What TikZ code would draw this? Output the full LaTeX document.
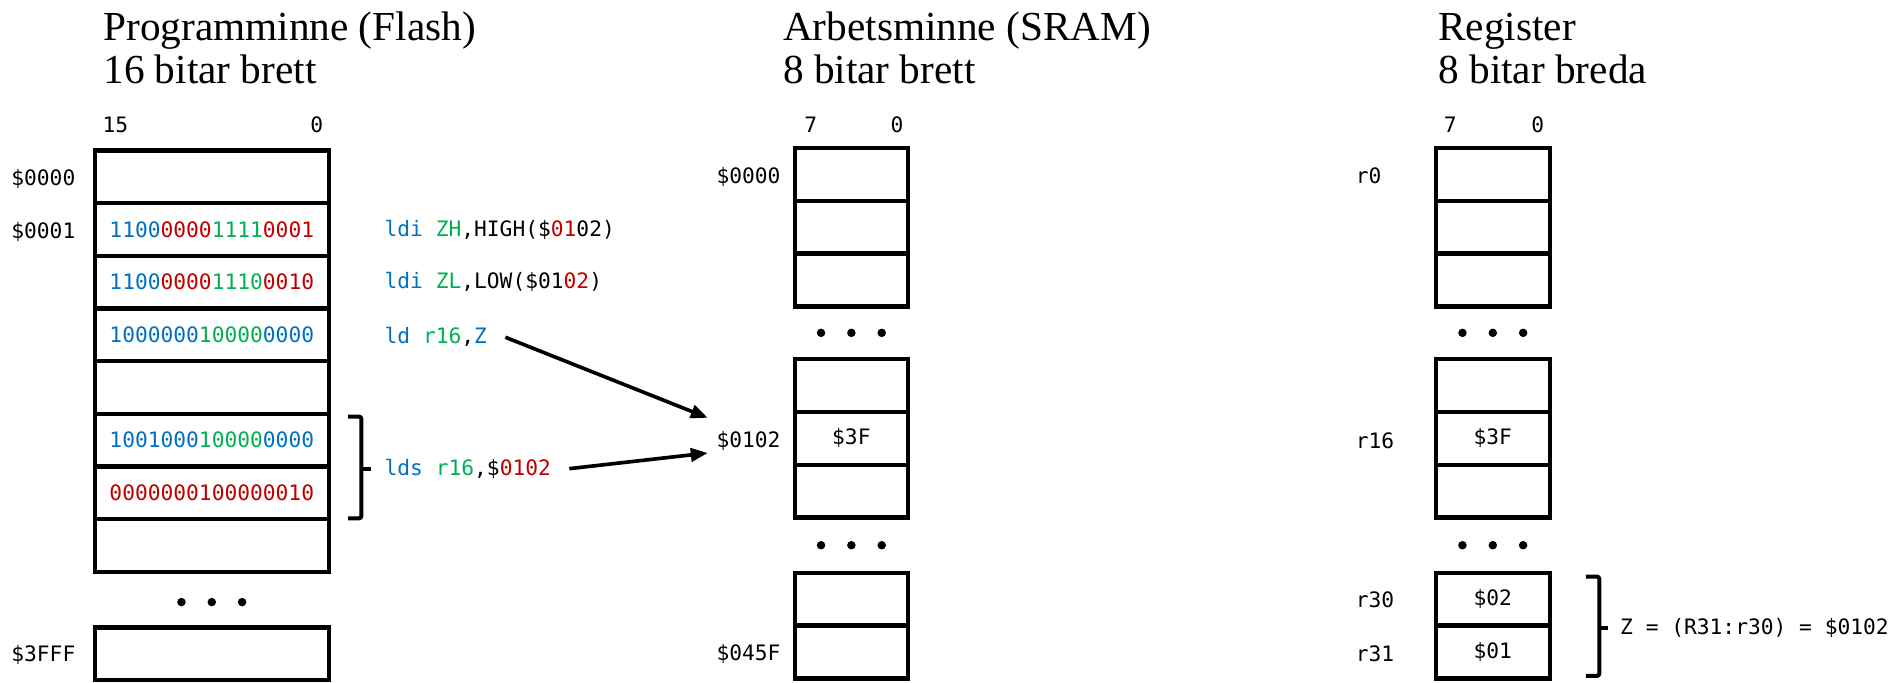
\documentclass[tikz,border=0pt]{standalone}
\usepackage{fontspec}
\setmainfont{Liberation Serif}
\setmonofont{DejaVu Sans Mono}
\usetikzlibrary{calc,positioning,arrows.meta}

\definecolor{opblue}{RGB}{0,112,192}
\definecolor{opgreen}{RGB}{0,176,80}
\definecolor{opred}{RGB}{192,0,0}
\newcommand{\opB}[1]{\textcolor{opblue}{#1}}
\newcommand{\opG}[1]{\textcolor{opgreen}{#1}}
\newcommand{\opR}[1]{\textcolor{opred}{#1}}
\newcommand{\bitfont}{\ttfamily\fontsize{17.5}{21}\selectfont}
\newcommand{\capfont}{\rmfamily\fontsize{34}{36}\selectfont}

\begin{document}
\begin{tikzpicture}[x=1pt,y=-1pt,
    cell/.style={draw,line width=3.5pt,minimum height=43.4pt,inner sep=0pt,font=\bitfont},
    lbl/.style={inner sep=2pt,font=\bitfont},
    title/.style={anchor=base west,align=left,inner sep=0pt,font=\capfont},
    ptr/.style={line width=3pt,-{Triangle[length=14pt,width=11pt]}},
    brace/.style={line width=3.3pt,rounded corners=2pt}]
    \useasboundingbox (0,0) rectangle (1568,562);

    % rubriker
    \node[title] (tf) at (85,69) {Programminne (Flash)\\16 bitar brett};
    \node[title] (ts) at (645,69) {Arbetsminne (SRAM)\\8 bitar brett};
    \node[title] (tr) at (1185,69) {Register\\8 bitar breda};

    % programminne
    \foreach \i/\txt in {1/{},
            2/{\opB{1100}\opR{0000}\opG{1111}\opR{0001}},
            3/{\opB{1100}\opR{0000}\opG{1110}\opR{0010}},
            4/{\opB{1000000}\opG{10000}\opB{0000}},
            5/{},
            6/{\opB{1001000}\opG{10000}\opB{0000}},
            7/{\opR{0000000100000010}},
            8/{}} {
        \node[cell,minimum width=193pt] (f\i) at (174.5,{124+(\i-0.5)*43.4}) {\txt};}
    \node[cell,minimum width=193pt] (f9) at (174.5,538.7) {};
    \foreach \x in {-25,0,25}
        \fill ($(f8.south)!0.5!(f9.north)+(\x,2)$) circle (3.5pt);

    \node[lbl] (fhi) at (95,103) {15};
    \node[lbl] (flo) at (261,103) {0};
    \node[lbl,left=12pt of f1,yshift=-2pt] (fa0) {\$0000};
    \node[lbl,left=12pt of f2,yshift=-2pt] (fa1) {\$0001};
    \node[lbl,left=12pt of f9,yshift=-1pt] (fa2) {\$3FFF};

    % instruktioner
    \node[lbl,right=42pt of f2] (ldzh) {\opB{ldi} \opG{ZH},HIGH(\$\opR{01}02)};
    \node[lbl,right=42pt of f3] (ldzl) {\opB{ldi} \opG{ZL},LOW(\$01\opR{02})};
    \node[lbl,right=42pt of f4,yshift=-2pt] (ld) {\opB{ld} \opG{r16},\opB{Z}};
    \draw[brace] ($(f6.north east)+(14,4)$) -| ($(f7.south east)+(25,-2.5)$) -- ++(-11,0);
    \draw[brace] ($(f6.south east)+(25,0)$) -- ++(8,0) coordinate (fbm);
    \node[lbl,anchor=west] (lds) at ($(fbm)+(9,0)$) {\opB{lds} \opG{r16},\$\opR{0102}};

    % arbetsminne och register
    \foreach \c/\x/\w in {s/701.5/93,r/1230/94} {
        \foreach \i/\y in {1/143.75,2/187.25,3/230.75,4/317.75,5/361.25,6/404.75,7/493.75,8/537.25}
            \node[cell,minimum width=\w pt] (\c\i) at (\x,\y) {};
        \foreach \d in {-25,0,25} {
            \fill ($(\c3.south)!0.5!(\c4.north)+(\d,0)$) circle (3.5pt);
            \fill ($(\c6.south)!0.5!(\c7.north)+(\d,0)$) circle (3.5pt);}
    }
    \node[lbl] (shi) at (668,103) {7};
    \node[lbl] (slo) at (739,103) {0};
    \node[lbl] (rhi) at (1195,103) {7};
    \node[lbl] (rlo) at (1267,103) {0};

    \node[lbl] (sv) at (s5) {\$3F};
    \node[lbl,left=8pt of s1,yshift=-2pt] (sa0) {\$0000};
    \node[lbl,left=8pt of s5,yshift=-2pt] (sa1) {\$0102};
    \node[lbl,left=8pt of s8,yshift=-2pt] (sa2) {\$045F};

    \node[lbl] (rv16) at (r5) {\$3F};
    \node[lbl] (rv30) at (r7) {\$02};
    \node[lbl] (rv31) at (r8) {\$01};
    \node[lbl,anchor=west] (rn0) at (1115,145) {r0};
    \node[lbl,anchor=west] (rn16) at (1115,363) {r16};
    \node[lbl,anchor=west] (rn30) at (1115,494) {r30};
    \node[lbl,anchor=west] (rn31) at (1115,539) {r31};

    \draw[brace] ($(r7.north east)+(28,4.75)$) -| ($(r8.south east)+(39,-3.75)$) -- ++(-11,0);
    \draw[brace] ($(r7.south east)+(39,0)$) -- ++(7,0) coordinate (rbm);
    \node[lbl,anchor=west] (zval) at ($(rbm)+(8,0)$) {Z = (R31:r30) = \$0102};

    % pilar
    \coordinate (ldtip) at ($(sa1.west)+(-5,-19)$);
    \coordinate (ldstip) at ($(sa1.west)+(-5,10)$);
    \draw[ptr] ([xshift=13pt]ld.east) -- (ldtip);
    \draw[ptr] ([xshift=13pt]lds.east) -- (ldstip);
\end{tikzpicture}
\end{document}
